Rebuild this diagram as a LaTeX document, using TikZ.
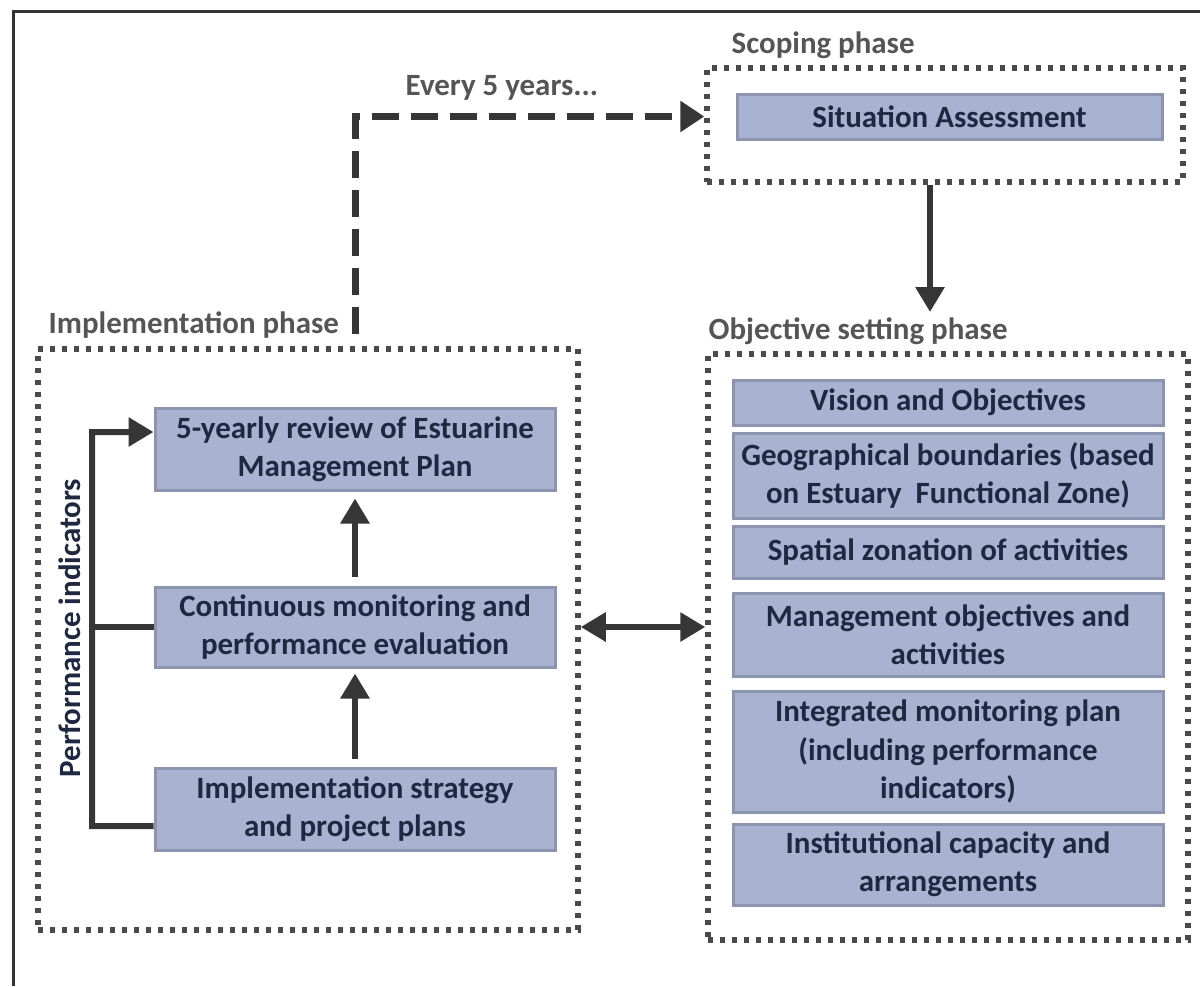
\documentclass[tikz,border=0pt]{standalone}
\usepackage{fontspec}
\setmainfont{Carlito}
\usetikzlibrary{arrows.meta}

\definecolor{boxfill}{HTML}{A8B2D1}
\definecolor{boxline}{HTML}{8C94AE}
\definecolor{boxtext}{HTML}{1E2840}
\definecolor{headgray}{HTML}{555555}
\definecolor{dotgray}{HTML}{4A4A4A}
\definecolor{linegray}{HTML}{363636}

\begin{document}
\begin{tikzpicture}[x=0.1mm,y=-0.1mm,
  phase/.style={draw=dotgray,line width=0.55mm,dash pattern=on 0.5mm off 0.7mm,
    inner sep=0pt},
  item/.style={draw=boxline,fill=boxfill,line width=0.3mm,text=boxtext,align=center,
    inner sep=0pt,font=\bfseries\fontsize{8.8}{10.9}\selectfont},
  phasetitle/.style={anchor=west,inner sep=0pt,text=headgray,
    font=\bfseries\fontsize{8.8}{10.9}\selectfont},
  wire/.style={draw=linegray,line width=0.6mm},
  link/.style={wire,-{Triangle[length=2.5mm,width=2.8mm]}},
  both/.style={wire,{Triangle[length=2.5mm,width=2.8mm]}-{Triangle[length=2.5mm,width=2.8mm]}}]

\useasboundingbox (0,0) rectangle (1200,986);
\draw[line width=0.3mm,black!80] (13,986) -- (13,11) -- (1200,11);

% scoping phase
\node[phasetitle] (scopetitle) at (731,45) {Scoping phase};
\node[phase,minimum width=47.6mm,minimum height=11.4mm] (scope) at (945,125) {};
\node[item,minimum width=42.5mm,minimum height=4.5mm] (situation) at (949.5,116.5) {Situation Assessment};

% objective setting phase
\node[phasetitle] (objtitle) at (708,331) {Objective setting phase};
\node[phase,minimum width=48mm,minimum height=58.6mm] (objbox) at (948,647) {};
\node[item,minimum width=43mm,minimum height=4.5mm] (vision) at (948,402.5) {Vision and Objectives};
\node[item,minimum width=43mm,minimum height=8.5mm] (geo) at (948,475.5) {Geographical boundaries (based\\on Estuary\ \ Functional Zone)};
\node[item,minimum width=43mm,minimum height=5.2mm] (spatial) at (948,552) {Spatial zonation of activities};
\node[item,minimum width=43mm,minimum height=8.3mm] (mgmt) at (948,634.5) {Management objectives and\\activities};
\node[item,minimum width=43mm,minimum height=12.1mm] (integ) at (948,751.5) {Integrated monitoring plan\\(including performance\\indicators)};
\node[item,minimum width=43mm,minimum height=8.1mm] (inst) at (948,864.5) {Institutional capacity and\\arrangements};

% implementation phase
\node[phasetitle] (impltitle) at (48,325) {Implementation phase};
\node[phase,minimum width=54mm,minimum height=58.1mm] (implbox) at (308,639.5) {};
\node[item,minimum width=40mm,minimum height=8.2mm] (review) at (355,449) {5-yearly review of Estuarine\\Management Plan};
\node[item,minimum width=40mm,minimum height=8mm] (monitor) at (355,627) {Continuous monitoring and\\performance evaluation};
\node[item,minimum width=40mm,minimum height=8.2mm] (strategy) at (355,809) {Implementation strategy\\and project plans};
\node[rotate=90,text=boxtext,inner sep=0pt,font=\bfseries\fontsize{8.8}{10.9}\selectfont]
  (perf) at (70,628) {Performance indicators};
\node[phasetitle] (every) at (405,88) {Every 5 years...};

% connectors
\coordinate (objtop) at (930,312);
\coordinate (loopstart) at (355,334);
\coordinate (spine) at (92,826);
\draw[link] (scope.south -| objtop) -- (objtop);
\draw[draw=linegray,line width=0.7mm,dash pattern=on 2.7mm off 1.2mm,
  -{Triangle[length=2.4mm,width=3mm]}] (loopstart) |- (situation -| scope.west);
\draw[link,shorten <=0.8mm,shorten >=0.5mm] (strategy) -- (monitor);
\draw[link,shorten <=0.9mm,shorten >=0.7mm] (monitor) -- (review);
\draw[link] ([yshift=-1.7mm]strategy.west) -- (spine) |- ([yshift=1.7mm]review.west);
\draw[wire] (monitor.west) -- (monitor.west -| spine);
\draw[both] (implbox.east |- monitor) -- (objbox.west |- monitor);
\end{tikzpicture}
\end{document}
